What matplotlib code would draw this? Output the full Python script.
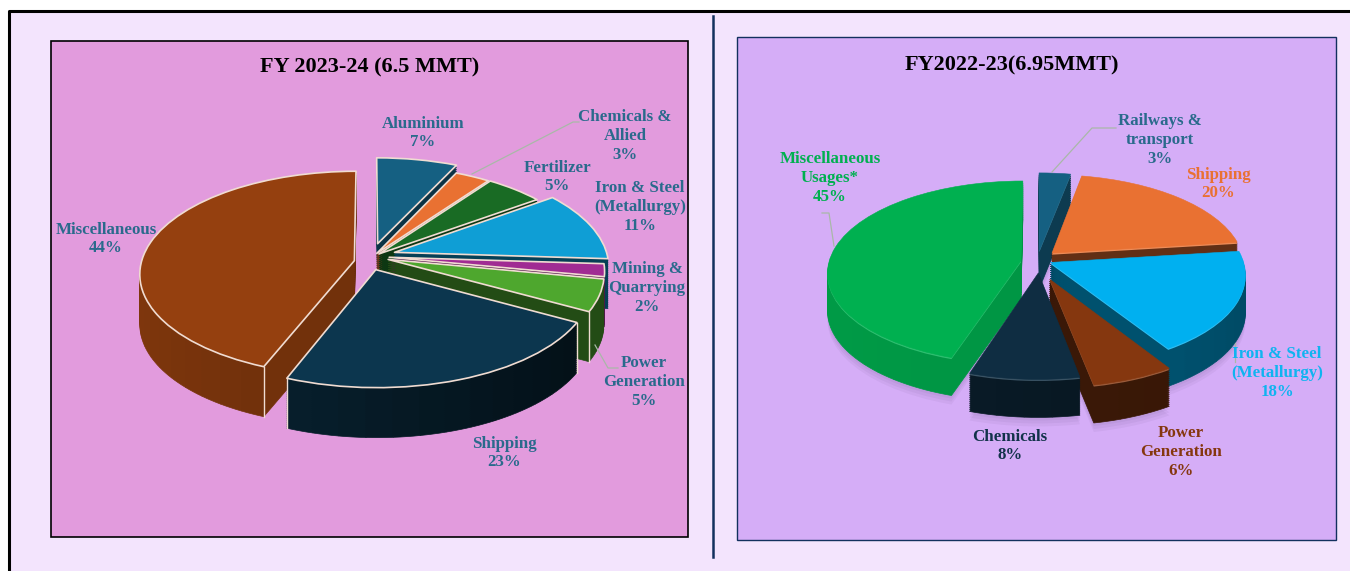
import numpy as np
import matplotlib
matplotlib.use('Agg')
import matplotlib.pyplot as plt
from matplotlib.patches import Wedge, Rectangle
from matplotlib.transforms import Affine2D, Transform
from matplotlib.colors import to_rgb

# FY 2023-24
names_24 = ['Aluminium', 'Chemicals &\nAllied', 'Fertilizer', 'Iron & Steel\n(Metallurgy)',
            'Mining &\nQuarrying', 'Power\nGeneration', 'Shipping', 'Miscellaneous']
values_24 = [7, 3, 5, 11, 2, 5, 23, 44]
# FY 2022-23
names_23 = ['Railways &\ntransport', 'Shipping', 'Iron & Steel\n(Metallurgy)',
            'Power\nGeneration', 'Chemicals', 'Miscellaneous\nUsages*']
values_23 = [3, 20, 18, 6, 8, 45]

colors_24 = ['#156082', '#E97132', '#196B24', '#0F9ED5', '#A02B93', '#4EA72E', '#0C364E', '#95400F']
colors_23 = ['#156082', '#E97132', '#00B0F0', '#85370F', '#0F2D42', '#00B050']
explode_24 = [0.19, 0.10, 0.10, 0.13, 0.10, 0.10, 0.08, 0.07]
explode_23 = [0.13, 0.13, 0.09, 0.19, 0.13, 0.09]
order_24 = [1, 2, 3, 4, 5, 6, 8, 7]
order_23 = [1, 2, 3, 5, 6, 4]
# small per slice shifts, pixels
nudge_24 = [(1, 0), (-2, 0), (-4, -1), (0, -6), (0, -6), (0, -6), (2, 0), (1, 0)]
nudge_23 = [(0, 0), (-3, -1), (-2, -3), (-1, 1), (3, -1), (1, 0)]
# side shade, left to right
wall_24 = [(0.7, 0.45), (0.7, 0.45), (0.6, 0.5), (0.5, 0.4), (0.6, 0.5), (0.55, 0.45), (0.7, 0.28), (0.85, 0.55)]
wall_23 = [(0.7, 0.55), (0.45, 0.42), (0.6, 0.42), (0.5, 0.4), (0.65, 0.45), (0.88, 0.8)]

label_xy_24 = [(423, 133), (625, 136), (557, 177), (640, 207), (647, 288), (644, 382), (504, 453), (106, 239)]
label_xy_23 = [(1160, 140), (1218, 184), (1277, 373), (1181, 452), (1010, 446), (830, 178)]
label_col_24 = ['#2A6A8C'] * 8
label_col_23 = ['#2A6A8C', '#E97132', '#0FB4F0', '#85370F', '#12324A', '#00B050']

leaders = [
    ([472, 573, 579], [174, 122, 122]),
    ([595, 608, 618], [345, 368, 368]),
    ([1052, 1092, 1116], [172, 128, 128]),
    ([834, 829, 822], [246, 213, 213]),
    ([1235, 1235], [343, 362]),
]


class Persp(Transform):
    # far side of the pie smaller than the near side
    input_dims = 2
    output_dims = 2
    is_separable = False

    def __init__(self, p):
        super().__init__()
        self.p = p

    def transform_non_affine(self, xy):
        xy = np.asarray(xy, dtype=float)
        den = 1 + self.p * xy[:, 1]
        return np.column_stack([xy[:, 0] / den, xy[:, 1] / den])


def shade(col, f):
    return tuple(c * f for c in to_rgb(col))


def tint(col, f):
    return tuple(c + (1 - c) * f for c in to_rgb(col))


def draw_pie(ax, values, explode, colors, order, nudge, wall, cx, cy, rx, ry, p, depth, rim):
    persp = Persp(p)

    def place(d, nx, ny):
        return persp + Affine2D().scale(rx, -ry).translate(cx + nx, cy + ny + d) + ax.transData

    wedges, _ = ax.pie(values, explode=explode, colors=colors, startangle=90, counterclock=False, radius=1)
    for w, col, o, (nx, ny), (f0, f1) in zip(wedges, colors, order, nudge, wall):
        if rim is None:
            # soft shadow on the panel
            for k in (3, 6, 9):
                ax.add_patch(Wedge(w.center, w.r, w.theta1, w.theta2, facecolor='#3A2A55', edgecolor='none',
                                   alpha=0.05, transform=place(depth + k, nx, ny), zorder=0.5))
        # side of the slice, stacked from the bottom up
        n = max(3, int((w.theta2 - w.theta1) / 6))
        edges = np.linspace(w.theta1, w.theta2, n + 1)
        for d in np.arange(depth, 0, -2.0):
            tr = place(d, nx, ny)
            for a, b in zip(edges[:-1], edges[1:]):
                xdir = np.cos(np.radians((a + b) / 2))
                f = f0 + (f1 - f0) * (xdir + 1) / 2
                fc = shade(col, f)
                ax.add_patch(Wedge(w.center, w.r, a, b, facecolor=fc, edgecolor=fc, linewidth=0.5,
                                   transform=tr, zorder=o))
        w.set_transform(place(0, nx, ny))
        w.set_zorder(o + 0.5)
        w.set_joinstyle('round')
        if rim is None:
            w.set_edgecolor(col)
            w.set_linewidth(0.4)
            # lighter bevel along the near edge
            ax.add_patch(Wedge(w.center, w.r, w.theta1, w.theta2, facecolor=tint(col, 0.18), edgecolor='none',
                               transform=place(1.6, nx, ny), zorder=o + 0.45))
        else:
            w.set_edgecolor(rim)
            w.set_linewidth(1.2)
            for th in (w.theta1, w.theta2):
                ux = w.center[0] + np.cos(np.radians(th))
                uy = w.center[1] + np.sin(np.radians(th))
                if uy > -0.3:
                    continue
                den = 1 + p * uy
                px = cx + nx + rx * ux / den
                py = cy + ny - ry * uy / den
                ax.plot([px, px], [py, py + depth], color=rim, lw=1.0, zorder=o + 0.4)


plt.rcParams['font.family'] = ['Liberation Serif', 'DejaVu Serif']
fig = plt.figure(figsize=(13.5, 5.71), dpi=100)
ax = fig.add_axes([0, 0, 1, 1])

draw_pie(ax, values_24, explode_24, colors_24, order_24, nudge_24, wall_24, 368, 262, 213, 101, 0.126, 50, '#F0DCD2')
draw_pie(ax, values_23, explode_23, colors_23, order_23, nudge_23, wall_23, 1037, 262, 192, 90, 0.125, 38, None)

ax.set_autoscale_on(False)
ax.set_xlim(0, 1350)
ax.set_ylim(571, 0)
ax.set_aspect('auto')
ax.axis('off')

# page and panels
ax.add_patch(Rectangle((9, 11), 1341, 560, facecolor='#F3E4FD', edgecolor='none', zorder=-3))
ax.plot([9, 9, 1350], [571, 11, 11], color='black', lw=2.2, zorder=-2)
ax.plot([713, 713], [16, 557], color='#12305E', lw=1.8, zorder=-2)
ax.add_patch(Rectangle((51, 41), 637, 496, facecolor='#E29BDD', edgecolor='black', lw=1.2, zorder=-1))
ax.add_patch(Rectangle((737, 37), 599, 503, facecolor='#D5ADF7', edgecolor='#12305E', lw=1.0, zorder=-1))

for xs, ys in leaders:
    ax.plot(xs, ys, color='#A9B8A8', lw=0.9, zorder=15)

ax.text(370, 67, 'FY 2023-24 (6.5 MMT)', ha='center', va='center', fontsize=16, fontweight='bold',
        color='black', zorder=20)
ax.text(1012, 65, 'FY2022-23(6.95MMT)', ha='center', va='center', fontsize=16, fontweight='bold',
        color='black', zorder=20)

for names, vals, pos, cols in [(names_24, values_24, label_xy_24, label_col_24),
                               (names_23, values_23, label_xy_23, label_col_23)]:
    for nm, v, (x, y), c in zip(names, vals, pos, cols):
        ax.text(x, y, '%s\n%d%%' % (nm, v), ha='center', va='center', fontsize=12.2, fontweight='bold',
                color=c, linespacing=1.22, zorder=20)

fig.savefig('out.png', dpi=100, facecolor='white')
